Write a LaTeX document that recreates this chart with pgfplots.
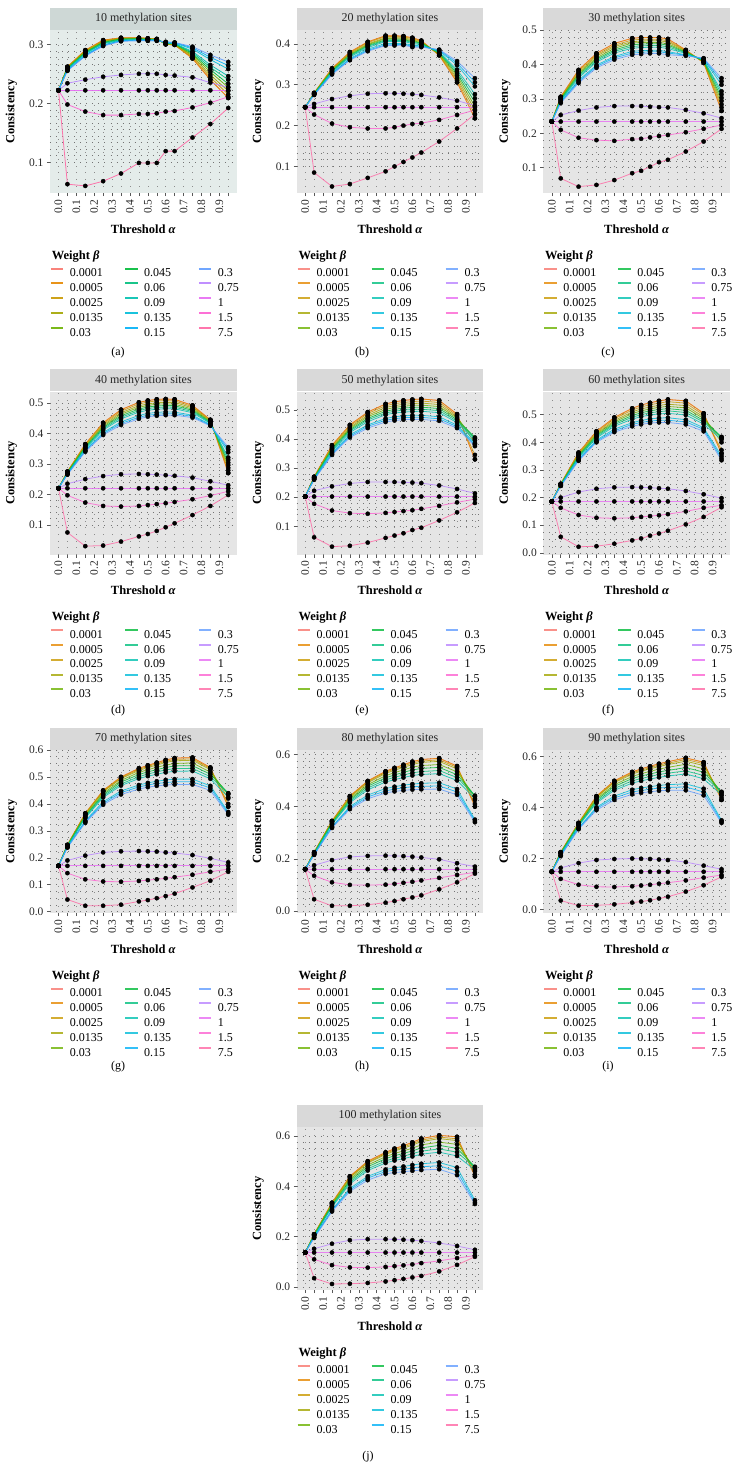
\documentclass[border=0pt]{standalone}
\usepackage{fontspec}
\setmainfont{Liberation Serif}
\usepackage{pgfplots}
\usepackage{pgfplotstable}
\pgfplotsset{compat=1.18}

\definecolor{c1}{HTML}{F8766D}
\definecolor{c2}{HTML}{E58700}
\definecolor{c3}{HTML}{C99800}
\definecolor{c4}{HTML}{A3A500}
\definecolor{c5}{HTML}{6BB100}
\definecolor{c6}{HTML}{00BA38}
\definecolor{c7}{HTML}{00BF7D}
\definecolor{c8}{HTML}{00C0AF}
\definecolor{c9}{HTML}{00BCD8}
\definecolor{c10}{HTML}{00B0F6}
\definecolor{c11}{HTML}{619CFF}
\definecolor{c12}{HTML}{B983FF}
\definecolor{c13}{HTML}{E76BF3}
\definecolor{c14}{HTML}{FD61D1}
\definecolor{c15}{HTML}{FF67A4}
\definecolor{bgg}{RGB}{229,229,229}
\definecolor{strip}{RGB}{217,217,217}
\definecolor{bgA}{RGB}{228,236,234}
\definecolor{stripA}{RGB}{206,216,214}

% columns: x, then beta = 0.0001 0.0005 0.0025 0.0135 0.03 0.045 0.06 0.09 0.135 0.15 0.3 0.75 1 1.5 7.5
\pgfplotstableread{
x s1 s2 s3 s4 s5 s6 s7 s8 s9 s10 s11 s12 s13 s14 s15
0 0.222 0.222 0.222 0.222 0.222 0.222 0.222 0.222 0.222 0.222 0.222 0.222 0.222 0.222 0.222
0.05 0.262 0.262 0.261 0.261 0.260 0.259 0.259 0.258 0.256 0.256 0.255 0.234 0.222 0.198 0.063
0.15 0.290 0.290 0.289 0.288 0.287 0.286 0.285 0.284 0.282 0.281 0.280 0.240 0.222 0.186 0.060
0.25 0.307 0.307 0.306 0.305 0.304 0.303 0.302 0.301 0.299 0.298 0.297 0.245 0.222 0.180 0.068
0.35 0.311 0.311 0.310 0.310 0.309 0.309 0.308 0.307 0.306 0.306 0.305 0.248 0.222 0.180 0.081
0.45 0.311 0.311 0.311 0.310 0.310 0.309 0.309 0.308 0.307 0.307 0.306 0.250 0.222 0.182 0.099
0.5 0.310 0.310 0.310 0.309 0.309 0.308 0.308 0.308 0.307 0.306 0.306 0.250 0.222 0.182 0.099
0.55 0.309 0.309 0.309 0.308 0.308 0.308 0.308 0.307 0.307 0.306 0.306 0.250 0.222 0.183 0.099
0.6 0.300 0.300 0.300 0.301 0.301 0.302 0.302 0.302 0.303 0.304 0.304 0.248 0.222 0.186 0.119
0.65 0.299 0.299 0.299 0.300 0.300 0.301 0.301 0.301 0.302 0.303 0.303 0.247 0.222 0.187 0.119
0.75 0.276 0.276 0.278 0.280 0.282 0.284 0.286 0.288 0.292 0.294 0.296 0.244 0.222 0.193 0.142
0.85 0.240 0.240 0.244 0.248 0.253 0.257 0.261 0.265 0.274 0.278 0.282 0.235 0.222 0.201 0.165
0.95 0.209 0.209 0.215 0.221 0.227 0.233 0.240 0.246 0.258 0.264 0.270 0.227 0.222 0.211 0.192
}\tA
\pgfplotstableread{
x s1 s2 s3 s4 s5 s6 s7 s8 s9 s10 s11 s12 s13 s14 s15
0 0.245 0.245 0.245 0.245 0.245 0.245 0.245 0.245 0.245 0.245 0.245 0.245 0.245 0.245 0.245
0.05 0.280 0.280 0.280 0.279 0.279 0.278 0.278 0.277 0.276 0.276 0.275 0.253 0.245 0.227 0.085
0.15 0.340 0.340 0.339 0.337 0.336 0.334 0.333 0.331 0.328 0.327 0.325 0.265 0.245 0.205 0.051
0.25 0.380 0.380 0.378 0.376 0.374 0.372 0.370 0.368 0.364 0.362 0.360 0.273 0.245 0.196 0.057
0.35 0.405 0.405 0.403 0.400 0.398 0.396 0.394 0.391 0.387 0.384 0.382 0.278 0.245 0.193 0.072
0.45 0.420 0.420 0.418 0.415 0.413 0.410 0.408 0.406 0.401 0.398 0.396 0.279 0.245 0.193 0.088
0.5 0.420 0.420 0.418 0.415 0.413 0.410 0.408 0.406 0.401 0.398 0.396 0.279 0.245 0.196 0.100
0.55 0.419 0.419 0.417 0.415 0.412 0.410 0.408 0.406 0.401 0.399 0.397 0.278 0.245 0.200 0.111
0.6 0.415 0.415 0.413 0.410 0.408 0.406 0.404 0.401 0.397 0.394 0.392 0.277 0.245 0.204 0.122
0.65 0.408 0.408 0.406 0.405 0.403 0.402 0.400 0.398 0.395 0.394 0.392 0.275 0.245 0.206 0.134
0.75 0.372 0.372 0.373 0.375 0.376 0.378 0.379 0.380 0.383 0.385 0.386 0.269 0.245 0.214 0.161
0.85 0.306 0.306 0.311 0.316 0.322 0.327 0.332 0.337 0.348 0.353 0.358 0.261 0.245 0.226 0.193
0.95 0.218 0.218 0.228 0.238 0.247 0.257 0.267 0.277 0.296 0.306 0.316 0.249 0.245 0.238 0.228
}\tB
\pgfplotstableread{
x s1 s2 s3 s4 s5 s6 s7 s8 s9 s10 s11 s12 s13 s14 s15
0 0.234 0.234 0.234 0.234 0.234 0.234 0.234 0.234 0.234 0.234 0.234 0.234 0.234 0.234 0.234
0.05 0.306 0.306 0.304 0.302 0.301 0.299 0.297 0.295 0.292 0.290 0.288 0.253 0.234 0.210 0.069
0.15 0.384 0.384 0.380 0.376 0.373 0.369 0.365 0.361 0.354 0.350 0.346 0.266 0.234 0.187 0.045
0.25 0.432 0.432 0.428 0.424 0.419 0.415 0.411 0.407 0.398 0.394 0.390 0.275 0.234 0.180 0.050
0.35 0.461 0.461 0.456 0.452 0.447 0.442 0.438 0.433 0.423 0.419 0.414 0.279 0.234 0.178 0.064
0.45 0.476 0.476 0.471 0.466 0.462 0.457 0.452 0.447 0.438 0.433 0.428 0.279 0.234 0.183 0.084
0.5 0.478 0.478 0.473 0.468 0.464 0.459 0.454 0.449 0.440 0.435 0.430 0.279 0.234 0.184 0.091
0.55 0.478 0.478 0.473 0.469 0.464 0.460 0.455 0.450 0.441 0.437 0.432 0.277 0.234 0.188 0.103
0.6 0.478 0.478 0.473 0.469 0.464 0.460 0.455 0.450 0.441 0.437 0.432 0.276 0.234 0.192 0.116
0.65 0.474 0.474 0.469 0.465 0.460 0.456 0.451 0.446 0.437 0.433 0.428 0.275 0.234 0.195 0.123
0.75 0.442 0.442 0.440 0.439 0.437 0.435 0.434 0.432 0.428 0.427 0.425 0.268 0.234 0.203 0.147
0.85 0.405 0.405 0.406 0.408 0.409 0.410 0.412 0.413 0.415 0.417 0.418 0.258 0.234 0.213 0.176
0.95 0.265 0.265 0.275 0.284 0.294 0.303 0.313 0.322 0.341 0.351 0.360 0.244 0.234 0.224 0.213
}\tC
\pgfplotstableread{
x s1 s2 s3 s4 s5 s6 s7 s8 s9 s10 s11 s12 s13 s14 s15
0 0.220 0.220 0.220 0.220 0.220 0.220 0.220 0.220 0.220 0.220 0.220 0.220 0.220 0.220 0.220
0.05 0.275 0.275 0.274 0.273 0.272 0.271 0.270 0.269 0.267 0.266 0.265 0.235 0.220 0.197 0.075
0.15 0.365 0.365 0.363 0.360 0.358 0.355 0.353 0.350 0.345 0.343 0.340 0.250 0.220 0.173 0.030
0.25 0.435 0.435 0.431 0.427 0.423 0.419 0.415 0.411 0.403 0.399 0.395 0.260 0.220 0.162 0.032
0.35 0.478 0.478 0.473 0.468 0.463 0.458 0.453 0.448 0.438 0.433 0.428 0.266 0.220 0.160 0.045
0.45 0.502 0.502 0.497 0.491 0.486 0.480 0.475 0.470 0.459 0.453 0.448 0.267 0.220 0.162 0.062
0.5 0.508 0.508 0.503 0.497 0.492 0.487 0.482 0.476 0.466 0.460 0.455 0.266 0.220 0.165 0.070
0.55 0.512 0.512 0.507 0.501 0.496 0.490 0.485 0.480 0.469 0.463 0.458 0.265 0.220 0.168 0.080
0.6 0.513 0.513 0.508 0.502 0.497 0.492 0.487 0.481 0.471 0.465 0.460 0.263 0.220 0.171 0.092
0.65 0.512 0.512 0.507 0.502 0.496 0.491 0.486 0.481 0.470 0.465 0.460 0.261 0.220 0.175 0.105
0.75 0.492 0.492 0.488 0.484 0.480 0.476 0.472 0.468 0.460 0.456 0.452 0.255 0.220 0.184 0.132
0.85 0.445 0.445 0.443 0.441 0.439 0.437 0.435 0.433 0.429 0.427 0.425 0.243 0.220 0.196 0.162
0.95 0.270 0.270 0.279 0.287 0.296 0.304 0.313 0.321 0.338 0.347 0.355 0.230 0.220 0.210 0.198
}\tD
\pgfplotstableread{
x s1 s2 s3 s4 s5 s6 s7 s8 s9 s10 s11 s12 s13 s14 s15
0 0.202 0.202 0.202 0.202 0.202 0.202 0.202 0.202 0.202 0.202 0.202 0.202 0.202 0.202 0.202
0.05 0.270 0.270 0.269 0.268 0.267 0.266 0.265 0.264 0.262 0.261 0.260 0.222 0.202 0.177 0.062
0.15 0.378 0.378 0.375 0.371 0.368 0.365 0.362 0.358 0.352 0.348 0.345 0.237 0.202 0.154 0.030
0.25 0.448 0.448 0.444 0.439 0.435 0.431 0.427 0.422 0.414 0.409 0.405 0.247 0.202 0.145 0.033
0.35 0.492 0.492 0.487 0.481 0.476 0.470 0.465 0.459 0.448 0.443 0.437 0.252 0.202 0.143 0.044
0.45 0.520 0.520 0.514 0.508 0.501 0.495 0.489 0.483 0.470 0.464 0.458 0.252 0.202 0.146 0.060
0.5 0.527 0.527 0.521 0.514 0.508 0.501 0.495 0.489 0.476 0.469 0.463 0.252 0.202 0.149 0.068
0.55 0.532 0.532 0.525 0.519 0.512 0.506 0.499 0.492 0.479 0.473 0.466 0.251 0.202 0.152 0.076
0.6 0.535 0.535 0.528 0.521 0.515 0.508 0.501 0.494 0.481 0.474 0.467 0.250 0.202 0.155 0.087
0.65 0.537 0.537 0.530 0.523 0.516 0.509 0.502 0.495 0.481 0.474 0.467 0.248 0.202 0.160 0.095
0.75 0.532 0.532 0.525 0.518 0.511 0.504 0.497 0.490 0.476 0.469 0.462 0.240 0.202 0.170 0.120
0.85 0.485 0.485 0.480 0.475 0.471 0.466 0.461 0.456 0.447 0.442 0.437 0.228 0.202 0.182 0.148
0.95 0.330 0.330 0.345 0.385 0.400 0.405 0.402 0.395 0.385 0.380 0.375 0.213 0.202 0.193 0.180
}\tE
\pgfplotstableread{
x s1 s2 s3 s4 s5 s6 s7 s8 s9 s10 s11 s12 s13 s14 s15
0 0.186 0.186 0.186 0.186 0.186 0.186 0.186 0.186 0.186 0.186 0.186 0.186 0.186 0.186 0.186
0.05 0.250 0.250 0.249 0.248 0.248 0.247 0.246 0.245 0.244 0.243 0.242 0.200 0.186 0.163 0.058
0.15 0.363 0.363 0.360 0.357 0.354 0.351 0.348 0.345 0.339 0.336 0.333 0.220 0.186 0.137 0.022
0.25 0.440 0.440 0.436 0.432 0.428 0.424 0.420 0.416 0.408 0.404 0.400 0.232 0.186 0.127 0.024
0.35 0.490 0.490 0.485 0.479 0.474 0.469 0.464 0.458 0.448 0.442 0.437 0.237 0.186 0.125 0.033
0.45 0.523 0.523 0.517 0.510 0.504 0.497 0.491 0.484 0.471 0.465 0.458 0.238 0.186 0.127 0.045
0.5 0.535 0.535 0.528 0.521 0.514 0.507 0.500 0.493 0.479 0.472 0.465 0.237 0.186 0.130 0.052
0.55 0.543 0.543 0.536 0.528 0.521 0.514 0.507 0.499 0.485 0.477 0.470 0.236 0.186 0.133 0.062
0.6 0.550 0.550 0.542 0.534 0.527 0.519 0.511 0.503 0.488 0.480 0.472 0.234 0.186 0.136 0.070
0.65 0.555 0.555 0.547 0.538 0.530 0.522 0.514 0.505 0.489 0.480 0.472 0.232 0.186 0.140 0.080
0.75 0.550 0.550 0.542 0.533 0.525 0.516 0.508 0.499 0.482 0.474 0.465 0.224 0.186 0.150 0.103
0.85 0.505 0.505 0.499 0.492 0.486 0.479 0.473 0.466 0.453 0.447 0.440 0.212 0.186 0.163 0.130
0.95 0.360 0.360 0.372 0.400 0.415 0.420 0.418 0.410 0.350 0.342 0.335 0.198 0.186 0.172 0.165
}\tF
\pgfplotstableread{
x s1 s2 s3 s4 s5 s6 s7 s8 s9 s10 s11 s12 s13 s14 s15
0 0.170 0.170 0.170 0.170 0.170 0.170 0.170 0.170 0.170 0.170 0.170 0.170 0.170 0.170 0.170
0.05 0.248 0.248 0.248 0.247 0.246 0.245 0.244 0.243 0.240 0.239 0.238 0.190 0.170 0.143 0.045
0.15 0.365 0.365 0.363 0.362 0.358 0.355 0.351 0.348 0.337 0.334 0.330 0.208 0.170 0.120 0.022
0.25 0.450 0.450 0.447 0.445 0.439 0.434 0.429 0.424 0.408 0.402 0.397 0.220 0.170 0.112 0.022
0.35 0.500 0.500 0.497 0.494 0.487 0.481 0.474 0.468 0.448 0.442 0.435 0.224 0.170 0.111 0.026
0.45 0.532 0.532 0.528 0.524 0.517 0.509 0.501 0.494 0.470 0.463 0.455 0.225 0.170 0.114 0.038
0.5 0.543 0.543 0.539 0.535 0.527 0.519 0.511 0.503 0.478 0.470 0.462 0.224 0.170 0.117 0.043
0.55 0.553 0.553 0.549 0.544 0.536 0.527 0.519 0.510 0.484 0.476 0.467 0.223 0.170 0.120 0.050
0.6 0.563 0.563 0.558 0.554 0.544 0.535 0.526 0.517 0.489 0.479 0.470 0.220 0.170 0.124 0.058
0.65 0.570 0.570 0.565 0.560 0.550 0.541 0.531 0.521 0.492 0.482 0.472 0.218 0.170 0.128 0.067
0.75 0.572 0.572 0.567 0.562 0.552 0.542 0.532 0.522 0.492 0.482 0.472 0.210 0.170 0.137 0.090
0.85 0.535 0.535 0.531 0.527 0.518 0.510 0.501 0.493 0.467 0.459 0.450 0.198 0.170 0.148 0.115
0.95 0.390 0.390 0.400 0.420 0.435 0.440 0.438 0.425 0.370 0.365 0.360 0.183 0.170 0.158 0.148
}\tG
\pgfplotstableread{
x s1 s2 s3 s4 s5 s6 s7 s8 s9 s10 s11 s12 s13 s14 s15
0 0.160 0.160 0.160 0.160 0.160 0.160 0.160 0.160 0.160 0.160 0.160 0.160 0.160 0.160 0.160
0.05 0.225 0.225 0.225 0.224 0.223 0.222 0.221 0.220 0.217 0.216 0.215 0.175 0.160 0.135 0.045
0.15 0.345 0.345 0.344 0.342 0.340 0.337 0.334 0.332 0.323 0.321 0.318 0.195 0.160 0.110 0.020
0.25 0.440 0.440 0.438 0.435 0.430 0.425 0.420 0.415 0.400 0.395 0.390 0.207 0.160 0.100 0.020
0.35 0.498 0.498 0.495 0.491 0.484 0.478 0.471 0.464 0.444 0.437 0.430 0.211 0.160 0.099 0.024
0.45 0.535 0.535 0.531 0.527 0.518 0.510 0.502 0.494 0.469 0.460 0.452 0.212 0.160 0.101 0.032
0.5 0.548 0.548 0.544 0.539 0.530 0.521 0.512 0.503 0.476 0.467 0.458 0.211 0.160 0.104 0.038
0.55 0.560 0.560 0.555 0.550 0.540 0.531 0.521 0.511 0.482 0.472 0.462 0.210 0.160 0.108 0.045
0.6 0.572 0.572 0.567 0.561 0.551 0.540 0.529 0.519 0.486 0.476 0.465 0.208 0.160 0.112 0.052
0.65 0.580 0.580 0.574 0.569 0.557 0.546 0.534 0.523 0.489 0.477 0.466 0.205 0.160 0.117 0.060
0.75 0.585 0.585 0.579 0.573 0.561 0.550 0.538 0.526 0.491 0.479 0.467 0.198 0.160 0.127 0.083
0.85 0.555 0.555 0.550 0.544 0.533 0.522 0.511 0.500 0.467 0.456 0.445 0.183 0.160 0.138 0.110
0.95 0.400 0.400 0.410 0.425 0.438 0.442 0.440 0.430 0.350 0.345 0.340 0.170 0.160 0.148 0.143
}\tH
\pgfplotstableread{
x s1 s2 s3 s4 s5 s6 s7 s8 s9 s10 s11 s12 s13 s14 s15
0 0.148 0.148 0.148 0.148 0.148 0.148 0.148 0.148 0.148 0.148 0.148 0.148 0.148 0.148 0.148
0.05 0.225 0.225 0.224 0.224 0.222 0.221 0.219 0.218 0.213 0.212 0.210 0.163 0.148 0.120 0.035
0.15 0.340 0.340 0.339 0.338 0.335 0.333 0.330 0.328 0.320 0.318 0.315 0.182 0.148 0.097 0.015
0.25 0.445 0.445 0.442 0.440 0.434 0.429 0.423 0.418 0.401 0.396 0.390 0.194 0.148 0.089 0.016
0.35 0.505 0.505 0.501 0.498 0.490 0.483 0.475 0.468 0.445 0.438 0.430 0.198 0.148 0.088 0.020
0.45 0.540 0.540 0.536 0.531 0.522 0.514 0.505 0.496 0.470 0.461 0.452 0.200 0.148 0.091 0.027
0.5 0.552 0.552 0.547 0.543 0.533 0.524 0.514 0.505 0.477 0.467 0.458 0.199 0.148 0.094 0.031
0.55 0.562 0.562 0.557 0.552 0.542 0.532 0.522 0.512 0.482 0.472 0.462 0.198 0.148 0.097 0.036
0.6 0.572 0.572 0.567 0.561 0.551 0.540 0.530 0.519 0.487 0.477 0.466 0.196 0.148 0.101 0.043
0.65 0.580 0.580 0.574 0.569 0.558 0.546 0.535 0.524 0.490 0.479 0.468 0.194 0.148 0.105 0.050
0.75 0.595 0.595 0.589 0.582 0.570 0.557 0.544 0.532 0.493 0.481 0.468 0.186 0.148 0.114 0.070
0.85 0.578 0.578 0.572 0.565 0.552 0.539 0.526 0.513 0.474 0.461 0.448 0.172 0.148 0.125 0.095
0.95 0.430 0.430 0.438 0.448 0.458 0.462 0.460 0.450 0.350 0.345 0.340 0.158 0.148 0.135 0.128
}\tI
\pgfplotstableread{
x s1 s2 s3 s4 s5 s6 s7 s8 s9 s10 s11 s12 s13 s14 s15
0 0.137 0.137 0.137 0.137 0.137 0.137 0.137 0.137 0.137 0.137 0.137 0.137 0.137 0.137 0.137
0.05 0.210 0.210 0.209 0.209 0.207 0.206 0.204 0.203 0.198 0.197 0.195 0.152 0.137 0.110 0.035
0.15 0.335 0.335 0.333 0.332 0.328 0.325 0.321 0.318 0.307 0.304 0.300 0.172 0.137 0.087 0.012
0.25 0.440 0.440 0.437 0.434 0.428 0.422 0.416 0.410 0.392 0.386 0.380 0.186 0.137 0.078 0.013
0.35 0.500 0.500 0.496 0.493 0.485 0.478 0.470 0.463 0.440 0.433 0.425 0.190 0.137 0.077 0.016
0.45 0.535 0.535 0.531 0.527 0.518 0.510 0.501 0.493 0.467 0.459 0.450 0.190 0.137 0.080 0.022
0.5 0.550 0.550 0.545 0.541 0.531 0.522 0.512 0.503 0.474 0.465 0.455 0.189 0.137 0.083 0.027
0.55 0.562 0.562 0.557 0.552 0.541 0.531 0.520 0.510 0.479 0.468 0.458 0.188 0.137 0.086 0.032
0.6 0.575 0.575 0.569 0.564 0.552 0.541 0.530 0.519 0.485 0.473 0.462 0.186 0.137 0.090 0.038
0.65 0.590 0.590 0.584 0.578 0.565 0.553 0.540 0.528 0.490 0.478 0.465 0.183 0.137 0.095 0.044
0.75 0.603 0.603 0.596 0.590 0.576 0.563 0.549 0.536 0.495 0.482 0.468 0.175 0.137 0.104 0.062
0.85 0.597 0.597 0.589 0.582 0.567 0.551 0.536 0.521 0.475 0.460 0.445 0.163 0.137 0.115 0.088
0.95 0.440 0.440 0.448 0.460 0.470 0.478 0.475 0.465 0.345 0.337 0.330 0.148 0.137 0.125 0.120
}\tJ

\newcommand{\legtxt}[1]{\hspace{5.5pt}\makebox[54pt][l]{#1}}
\newcommand{\legitem}[2]{\addlegendimage{draw=#1,draw opacity=\lop}\addlegendentry{\legtxt{#2}}}

% lines, then black points, then the legend (filled row by row)
\newcommand{\drawpanel}[2]{%
  \def\lop{#2}%
  \pgfplotsinvokeforeach{1,...,15}{%
    \addplot[draw=c##1, line width=0.8pt, draw opacity=#2, forget plot] table[x=x, y=s##1] {#1};
  }%
  \pgfplotsinvokeforeach{1,...,15}{%
    \addplot[only marks, mark=*, mark size=2.1pt, black, forget plot] table[x=x, y=s##1] {#1};
  }%
  \legitem{c1}{0.0001}\legitem{c6}{0.045}\legitem{c11}{0.3}%
  \legitem{c2}{0.0005}\legitem{c7}{0.06}\legitem{c12}{0.75}%
  \legitem{c3}{0.0025}\legitem{c8}{0.09}\legitem{c13}{1}%
  \legitem{c4}{0.0135}\legitem{c9}{0.135}\legitem{c14}{1.5}%
  \legitem{c5}{0.03}\legitem{c10}{0.15}\legitem{c15}{7.5}%
  \node[anchor=base west, font=\bfseries\fontsize{12.5}{13}\selectfont, xshift=-1.7pt, yshift=-66.3pt]
    at (axis description cs:0,0) {Weight \textit{β}};
}

\pgfplotsset{
  panel/.style={
    scale only axis, width=186.7pt, height=163pt, anchor=north west, clip=false,
    xmin=-0.0475, xmax=0.9975,
    axis background/.style={fill=bgg},
    axis line style={draw=none},
    tick align=outside, tick pos=left,
    major tick length=3pt, minor tick length=0pt,
    tick style={black!65, line width=0.5pt},
    xtick={0,0.05,0.1,0.15,0.2,0.25,0.3,0.35,0.4,0.45,0.5,0.55,0.6,0.65,0.7,0.75,0.8,0.85,0.9,0.95},
    xticklabels={0.0,,0.1,,0.2,,0.3,,0.4,,0.5,,0.6,,0.7,,0.8,,0.9,},
    grid=both,
    major x grid style={black!45, line width=0.5pt, dash pattern=on 0.5pt off 6.2pt},
    major y grid style={black!55, line width=0.55pt, dash pattern=on 0.55pt off 5.5pt},
    minor grid style={black!55, line width=0.55pt, dash pattern=on 0.55pt off 5.5pt},
    ticklabel style={font=\fontsize{11.5}{12}\selectfont, text=black!85},
    xticklabel style={rotate=90, anchor=east},
    yticklabel style={/pgf/number format/.cd, fixed, fixed zerofill, precision=1},
    /pgf/number format/assume math mode=true,
    xlabel={Threshold \textit{α}}, ylabel={Consistency},
    label style={font=\bfseries\fontsize{12.5}{13}\selectfont},
    xlabel style={at={(axis description cs:0.5,-0.2209)}, anchor=center},
    ylabel style={at={(axis description cs:-0.2062,0.5)}, anchor=center},
    every axis title/.style={at={(0.5,1)}, anchor=south, fill=strip, minimum width=186.7pt,
      minimum height=22pt, inner sep=0pt, font=\fontsize{12}{12}\selectfont, text=black!85},
    legend columns=3, legend cell align=left,
    legend image code/.code={\draw[line width=2pt,##1] (0pt,4pt) -- (12.5pt,4pt);},
    legend style={at={(axis description cs:0,0)}, anchor=north west, yshift=-74.5pt,
      draw=none, fill=none, inner sep=0pt, outer sep=0pt, column sep=0pt, row sep=5.6pt,
      font=\fontsize{12}{12}\selectfont,
      nodes={inner sep=0pt, text height=8.5pt, text depth=0pt}},
  },
}

\begin{document}
\begin{tikzpicture}
\useasboundingbox (0pt,0pt) rectangle (738pt,-1472pt);

% row 1
\begin{axis}[panel, at={(50pt,-30pt)}, title={10 methylation sites},
  axis background/.style={fill=bgA}, title style={fill=stripA},
  ymin=0.048, ymax=0.3242, ytick={0.1,0.2,0.3}, minor y tick num=8]
  \drawpanel{\tA}{0.9}
\end{axis}
\begin{axis}[panel, at={(296.7pt,-30pt)}, title={20 methylation sites},
  ymin=0.035, ymax=0.434, ytick={0.1,0.2,0.3,0.4}, minor y tick num=5]
  \drawpanel{\tB}{0.8}
\end{axis}
\begin{axis}[panel, at={(543.3pt,-30pt)}, title={30 methylation sites},
  ymin=0.0265, ymax=0.5, ytick={0.1,0.2,0.3,0.4,0.5}, minor y tick num=4]
  \drawpanel{\tC}{0.8}
\end{axis}

% row 2
\begin{axis}[panel, at={(50pt,-391.5pt)}, title={40 methylation sites},
  ymin=0.0026, ymax=0.5377, ytick={0.1,0.2,0.3,0.4,0.5}, minor y tick num=4]
  \drawpanel{\tD}{0.8}
\end{axis}
\begin{axis}[panel, at={(296.7pt,-391.5pt)}, title={50 methylation sites},
  ymin=0.003, ymax=0.5627, ytick={0.1,0.2,0.3,0.4,0.5}, minor y tick num=4]
  \drawpanel{\tE}{0.8}
\end{axis}
\begin{axis}[panel, at={(543.3pt,-391.5pt)}, title={60 methylation sites},
  ymin=-0.006, ymax=0.584, ytick={0,0.1,0.2,0.3,0.4,0.5}, minor y tick num=3]
  \drawpanel{\tF}{0.8}
\end{axis}

% row 3
\begin{axis}[panel, at={(50pt,-750pt)}, title={70 methylation sites},
  ymin=-0.005, ymax=0.6, ytick={0,0.1,0.2,0.3,0.4,0.5,0.6}, minor y tick num=3]
  \drawpanel{\tG}{0.8}
\end{axis}
\begin{axis}[panel, at={(296.7pt,-750pt)}, title={80 methylation sites},
  ymin=-0.0077, ymax=0.6165, ytick={0,0.2,0.4,0.6}, minor y tick num=7]
  \drawpanel{\tH}{0.8}
\end{axis}
\begin{axis}[panel, at={(543.3pt,-750pt)}, title={90 methylation sites},
  ymin=-0.014, ymax=0.626, ytick={0,0.2,0.4,0.6}, minor y tick num=7]
  \drawpanel{\tI}{0.8}
\end{axis}

% row 4
\begin{axis}[panel, at={(296.7pt,-1127pt)}, title={100 methylation sites},
  ymin=-0.012, ymax=0.636, ytick={0,0.2,0.4,0.6}, minor y tick num=7]
  \drawpanel{\tJ}{0.8}
\end{axis}

\begin{scope}[font=\fontsize{12}{12}\selectfont]
\node at (118pt,-352.7pt) {(a)};
\node at (362pt,-352.7pt) {(b)};
\node at (608pt,-352.7pt) {(c)};
\node at (118pt,-711pt) {(d)};
\node at (362pt,-711pt) {(e)};
\node at (608pt,-711pt) {(f)};
\node at (118pt,-1067pt) {(g)};
\node at (362pt,-1067pt) {(h)};
\node at (608pt,-1067pt) {(i)};
\node at (368pt,-1457pt) {(j)};
\end{scope}
\end{tikzpicture}
\end{document}
